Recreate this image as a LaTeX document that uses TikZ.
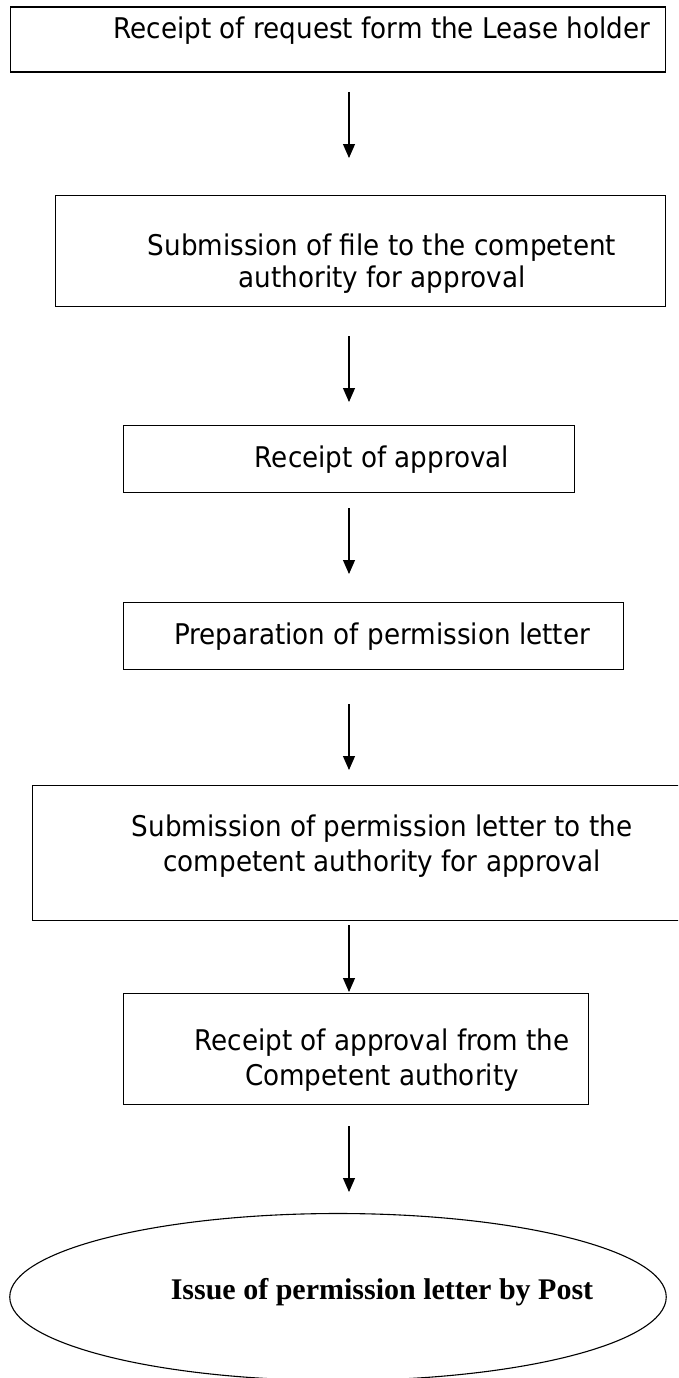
\documentclass[tikz,border=0pt]{standalone}
\usepackage{fontspec}
\setmainfont{DejaVu Sans}[FakeStretch=0.92]
\newfontfamily\ellfont{Liberation Serif}
\usetikzlibrary{arrows.meta,shapes.geometric}
\tikzset{
  boxnode/.style={draw=black, line width=1.3pt, rectangle, inner sep=0pt, anchor=north west},
  txt/.style={inner sep=0pt, anchor=base, font=\fontsize{28.5}{34}\selectfont},
  etxt/.style={inner sep=0pt, anchor=base, font=\ellfont\bfseries\fontsize{30}{36}\selectfont},
  flow/.style={draw=black, line width=1.1pt, -{Triangle[width=12pt,length=14pt]}},
  ellnode/.style={draw=black, line width=1.1pt, ellipse, inner sep=0pt}
}
\begin{document}
\begin{tikzpicture}[x=1pt,y=-1pt]
\clip (0,0) rectangle (678,1378);
\fill[white] (0,0) rectangle (678,1378);

% boxes
\node[boxnode, minimum width=655pt, minimum height=65pt] (b1) at (9.5,6.5) {};
\node[boxnode, minimum width=609.5pt, minimum height=111pt] (b2) at (55,195) {};
\node[boxnode, minimum width=451pt, minimum height=67pt] (b3) at (123,425) {};
\node[boxnode, minimum width=499.5pt, minimum height=67pt] (b4) at (123,602) {};
\node[boxnode, minimum width=668pt, minimum height=135pt] (b5) at (32,785) {};
\node[boxnode, minimum width=465pt, minimum height=111pt] (b6) at (123,993) {};
\node[ellnode, minimum width=656.5pt, minimum height=167pt] (e) at (338,1297) {};

% texts
\node[txt] (t1) at (382,39) {Receipt of request form the Lease holder};
\node[txt] (t2a) at (382,255) {Submission of file to the competent};
\node[txt] (t2b) at (382,287.5) {authority for approval};
\node[txt] (t3) at (382,467) {Receipt of approval};
\node[txt] (t4) at (382,644) {Preparation of permission letter};
\node[txt] (t5a) at (382,836) {Submission of permission letter to the};
\node[txt] (t5b) at (382,871) {competent authority for approval};
\node[txt] (t6a) at (382,1050) {Receipt of approval from the};
\node[txt] (t6b) at (382,1085) {Competent authority};
\node[etxt] (te) at (382,1299) {Issue of permission letter by Post};

% arrows
\coordinate (a1s) at (349,92);   \coordinate (a1e) at (349,158);
\coordinate (a2s) at (349,336);  \coordinate (a2e) at (349,402);
\coordinate (a3s) at (349,508);  \coordinate (a3e) at (349,574);
\coordinate (a4s) at (349,704);  \coordinate (a4e) at (349,770);
\coordinate (a5s) at (349,925);  \coordinate (a5e) at (349,992);
\coordinate (a6s) at (349,1126); \coordinate (a6e) at (349,1192);
\draw[flow] (a1s) -- (a1e);
\draw[flow] (a2s) -- (a2e);
\draw[flow] (a3s) -- (a3e);
\draw[flow] (a4s) -- (a4e);
\draw[flow] (a5s) -- (a5e);
\draw[flow] (a6s) -- (a6e);
\end{tikzpicture}
\end{document}
